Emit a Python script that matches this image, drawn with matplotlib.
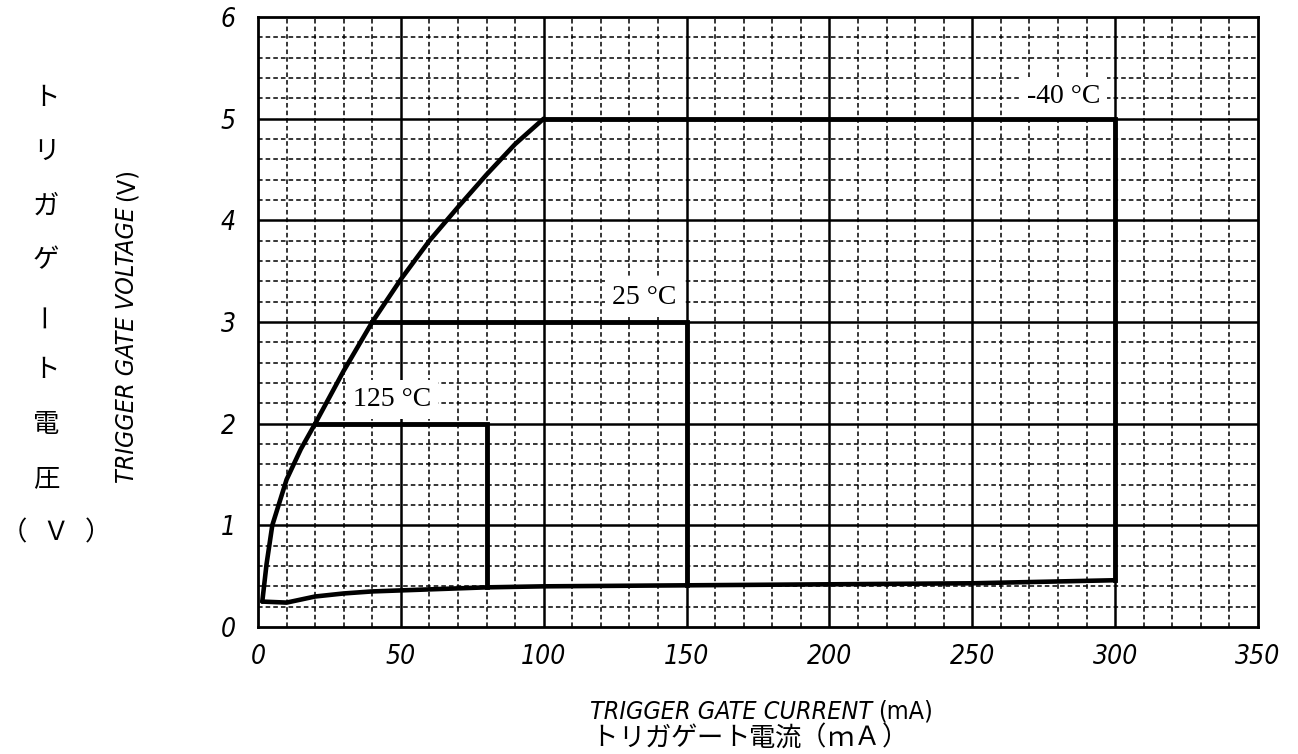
import matplotlib
matplotlib.use("Agg")
import matplotlib.pyplot as plt
from matplotlib import font_manager
import numpy as np

# Boundary curve (upper-left envelope)
env_x = [1.5, 3, 5, 10, 15, 20, 30, 40, 50, 60, 70, 80, 90, 100]
env_y = [0.25, 0.62, 1.0, 1.45, 1.75, 2.0, 2.52, 3.0, 3.42, 3.8, 4.13, 4.45, 4.75, 5.0]
# Lower curve
low_x = [1.5, 10, 15, 20, 30, 40, 50, 80, 100, 150, 200, 250, 300]
low_y = [0.25, 0.24, 0.27, 0.30, 0.33, 0.35, 0.36, 0.39, 0.40, 0.41, 0.42, 0.43, 0.46]

temps = ["125 °C", "25 °C", "-40 °C"]
rect_i0 = [20, 40, 100]
rect_i1 = [80, 150, 300]
rect_v = [2, 3, 5]
rect_vb = [0.39, 0.41, 0.46]
label_x = [47, 135, 282]
label_y = [2.24, 3.24, 5.22]

xticks = [0, 50, 100, 150, 200, 250, 300, 350]
yticks = [0, 1, 2, 3, 4, 5, 6]

xlabel_jp = "トリガゲート電流（ｍＡ）"
ylabel_jp = ["ト", "リ", "ガ", "ゲ", "ー", "ト", "電", "圧"]

names = {f.name for f in font_manager.fontManager.ttflist}
narrow = None
for cand in ['Liberation Sans Narrow', 'DejaVu Sans Condensed']:
    if cand in names:
        narrow = cand
        break
if narrow is None:
    tickfont = dict(family=['DejaVu Sans'], style='italic', stretch='condensed')
    uprfont = dict(family=['DejaVu Sans'], stretch='condensed')
else:
    tickfont = dict(family=[narrow, 'DejaVu Sans'], style='italic')
    uprfont = dict(family=[narrow, 'DejaVu Sans'])
cjk = ['Noto Sans CJK JP', 'DejaVu Sans']

W, H = 1298, 754
fig = plt.figure(figsize=(W/100, H/100), dpi=100)
ax = fig.add_axes([258/W, 1-627/H, 1000/W, 610/H])
ax.set_xlim(0, 350)
ax.set_ylim(0, 6)

for xv in np.arange(10, 350, 10):
    if xv % 50:
        ax.axvline(xv, color='black', lw=1.1, ls=(0, (3, 2)), zorder=1)
for yv in np.arange(0.2, 6, 0.2):
    if abs(yv - round(yv)) > 1e-6:
        ax.axhline(yv, color='black', lw=1.1, ls=(0, (3, 2)), zorder=1)
for xv in xticks[1:-1]:
    ax.axvline(xv, color='black', lw=1.8, zorder=2)
for yv in yticks[1:-1]:
    ax.axhline(yv, color='black', lw=1.8, zorder=2)

for s in ax.spines.values():
    s.set_linewidth(2.0)

ax.plot(env_x, env_y, color='black', lw=3.3, solid_capstyle='round', zorder=4)
ax.plot(low_x, low_y, color='black', lw=3.3, solid_capstyle='round', zorder=4)
for i in range(3):
    ax.plot([rect_i0[i], rect_i1[i], rect_i1[i]], [rect_v[i], rect_v[i], rect_vb[i]],
            color='black', lw=3.5, solid_joinstyle='miter', zorder=4)
    ax.text(label_x[i], label_y[i], temps[i], family='Liberation Serif', fontsize=20,
            ha='center', va='center', zorder=5,
            bbox=dict(facecolor='white', edgecolor='none', pad=5))

ax.set_xticks(xticks)
ax.set_yticks(yticks)
ax.tick_params(length=0, pad=12)
ax.set_xticklabels([str(t) for t in xticks], fontsize=19, **tickfont)
ax.set_yticklabels([str(t) for t in yticks], fontsize=19, **tickfont)
ax.tick_params(axis='y', pad=16)

renderer = fig.canvas.get_renderer()
# x axis label: italic part + upright unit
t1 = fig.text(590/W, 1-712/H, "TRIGGER GATE CURRENT", fontsize=18,
              ha='left', va='center', **tickfont)
bb = t1.get_window_extent(renderer)
fig.text((bb.x1 + 6)/W, 1-712/H, "(mA)", fontsize=18, ha='left', va='center', **uprfont)
for k, ch in enumerate(xlabel_jp):
    shift = -2 if ch == "（" else (2 if ch == "）" else 0)
    fig.text((605 + 26.2*k + shift)/W, 1-738/H, ch, family=cjk,
             fontsize=19, ha='center', va='center')

# y axis label
t2 = fig.text(127/W, (H-483)/H, "TRIGGER GATE VOLTAGE", fontsize=18,
              ha='center', va='bottom', rotation=90, **tickfont)
bb2 = t2.get_window_extent(renderer)
fig.text(127/W, (bb2.y1 + 6)/H, "(V)", fontsize=18, ha='center', va='bottom',
         rotation=90, **uprfont)

jy = [97, 151, 206, 260, 315, 369, 424, 479]
for ch, yy in zip(ylabel_jp, jy):
    fig.text(46/W, 1-yy/H, ch, family=cjk, fontsize=19,
             ha='center', va='center', rotation=90 if ch == "ー" else 0)
for ch, xx in zip(["（", "Ｖ", "）"], [14, 56, 98]):
    fig.text(xx/W, 1-533/H, ch, family=cjk, fontsize=19, ha='center', va='center')

fig.savefig("out.png", dpi=100)
